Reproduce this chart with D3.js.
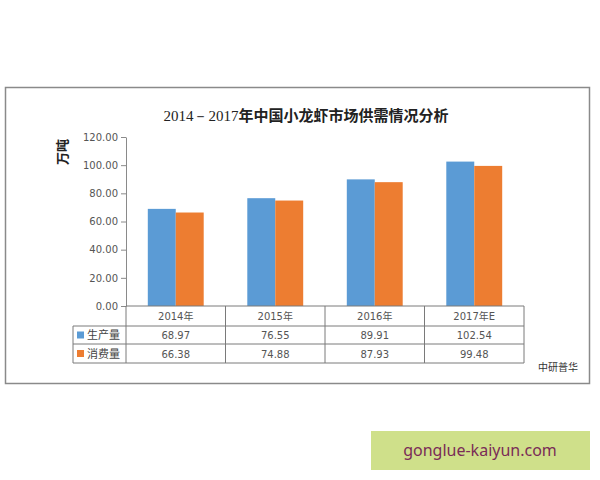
<!DOCTYPE html>
<html>
<head>
<meta charset="utf-8">
<script src="https://cdn.jsdelivr.net/npm/d3@7"></script>
<style>
  body { margin: 0; background: #fff; }
  svg { display: block; }
</style>
</head>
<body>
<svg id="chart" width="600" height="480"></svg>
<script>
// данные
const years = ["2014年", "2015年", "2016年", "2017年E"];
const seriesNames = ["生产量", "消费量"];
const production = [68.97, 76.55, 89.91, 102.54];
const consumption = [66.38, 74.88, 87.93, 99.48];
const yTicks = [0, 20, 40, 60, 80, 100, 120];
const colors = ["#5b9bd5", "#ed7d31"];

const rows = [production, consumption];

const svg = d3.select("#chart");
const cjk = "'Noto Sans CJK SC', sans-serif";
const numFont = "'DejaVu Sans', 'Noto Sans CJK SC', sans-serif";

// внешняя рамка
svg.append("rect")
    .attr("x", 5.5).attr("y", 87.5)
    .attr("width", 584).attr("height", 296)
    .attr("fill", "#fff")
    .attr("stroke", "#8a8a8a")
    .attr("stroke-width", 1.5);

// заголовок
let title = svg.append("text")
    .attr("x", 306).attr("y", 121)
    .attr("text-anchor", "middle")
    .style("font-size", "15px")
    .style("fill", "#222");
title.append("tspan")
    .style("font-family", "'Liberation Serif', serif")
    .text("2014－2017");
title.append("tspan")
    .style("font-family", cjk)
    .style("font-weight", "bold")
    .text("年中国小龙虾市场供需情况分析");

// шкалы
const area = { left: 126, right: 524, top: 137, bottom: 306 };

const x0 = d3.scaleBand()
    .domain(years)
    .range([area.left, area.right])
    .paddingInner(0);

const x1 = d3.scaleBand()
    .domain(seriesNames)
    .range([0, x0.bandwidth()])
    .paddingInner(0)
    .paddingOuter(0.78);

const y = d3.scaleLinear()
    .domain([0, 120])
    .range([area.bottom, area.top]);

// столбцы
seriesNames.forEach((s, i) => {
    svg.selectAll(".bar" + i)
        .data(years)
        .enter()
        .append("rect")
        .attr("x", d => x0(d) + x1(s))
        .attr("y", (d, j) => y(rows[i][j]))
        .attr("width", x1.bandwidth())
        .attr("height", (d, j) => area.bottom - y(rows[i][j]))
        .style("fill", colors[i]);
});

// ось Y
let axisY = d3.axisLeft(y)
    .tickValues(yTicks)
    .tickFormat(d3.format(".2f"))
    .tickSize(5)
    .tickSizeOuter(0);

let gy = svg.append("g")
    .attr("transform", `translate(${area.left}, 0)`)
    .call(axisY);
gy.select(".domain").attr("stroke", "#8a8a8a");
gy.selectAll(".tick line").attr("stroke", "#8a8a8a");
gy.selectAll(".tick text")
    .attr("x", -8)
    .style("font-family", numFont)
    .style("font-size", "10px")
    .style("fill", "#555");

// подпись оси
svg.append("text")
    .attr("transform", "translate(67, 152) rotate(-90)")
    .attr("text-anchor", "middle")
    .style("font-family", cjk)
    .style("font-weight", "bold")
    .style("font-size", "13px")
    .style("fill", "#222")
    .text("万吨");

// таблица данных
const rowY = [306, 326, 344, 363];
const tableLeft = 73;
const lineColor = "#7a7a7a";

let table = svg.append("g");

// горизонтальные линии
table.append("line")
    .attr("x1", area.left).attr("x2", area.right)
    .attr("y1", rowY[0]).attr("y2", rowY[0])
    .attr("stroke", lineColor);
[rowY[1], rowY[2], rowY[3]].forEach(v => {
    table.append("line")
        .attr("x1", tableLeft).attr("x2", area.right)
        .attr("y1", v).attr("y2", v)
        .attr("stroke", lineColor);
});

// вертикальные линии
table.append("line")
    .attr("x1", tableLeft).attr("x2", tableLeft)
    .attr("y1", rowY[1]).attr("y2", rowY[3])
    .attr("stroke", lineColor);
years.forEach(d => {
    table.append("line")
        .attr("x1", x0(d)).attr("x2", x0(d))
        .attr("y1", rowY[0]).attr("y2", rowY[3])
        .attr("stroke", lineColor);
});
table.append("line")
    .attr("x1", area.right).attr("x2", area.right)
    .attr("y1", rowY[0]).attr("y2", rowY[3])
    .attr("stroke", lineColor);

// заголовки столбцов
table.selectAll(".hdr")
    .data(years)
    .enter()
    .append("text")
    .attr("x", d => x0(d) + x0.bandwidth() / 2)
    .attr("y", (rowY[0] + rowY[1]) / 2 + 4)
    .attr("text-anchor", "middle")
    .style("font-family", numFont)
    .style("font-size", "10px")
    .style("fill", "#555")
    .text(d => d);

// строки серий
seriesNames.forEach((s, i) => {
    let cy = (rowY[i + 1] + rowY[i + 2]) / 2;
    table.append("rect")
        .attr("x", 77).attr("y", cy - 3.5)
        .attr("width", 7).attr("height", 7)
        .style("fill", colors[i]);
    table.append("text")
        .attr("x", 87).attr("y", cy + 4)
        .style("font-family", cjk)
        .style("font-size", "11px")
        .style("fill", "#444")
        .text(s);
    table.selectAll(".val" + i)
        .data(years)
        .enter()
        .append("text")
        .attr("x", d => x0(d) + x0.bandwidth() / 2)
        .attr("y", cy + 4)
        .attr("text-anchor", "middle")
        .style("font-family", numFont)
        .style("font-size", "10px")
        .style("fill", "#555")
        .text((d, j) => rows[i][j].toFixed(2));
});

// источник
svg.append("text")
    .attr("x", 578).attr("y", 371)
    .attr("text-anchor", "end")
    .style("font-family", cjk)
    .style("font-size", "10px")
    .style("fill", "#333")
    .text("中研普华");

// водяной знак
svg.append("rect")
    .attr("x", 371).attr("y", 431)
    .attr("width", 219).attr("height", 39)
    .style("fill", "#cfe08a");
svg.append("text")
    .attr("x", 480).attr("y", 456)
    .attr("text-anchor", "middle")
    .style("font-family", "'Noto Sans', sans-serif")
    .style("font-size", "16px")
    .style("fill", "#7a2c57")
    .text("gonglue-kaiyun.com");
</script>
</body>
</html>
